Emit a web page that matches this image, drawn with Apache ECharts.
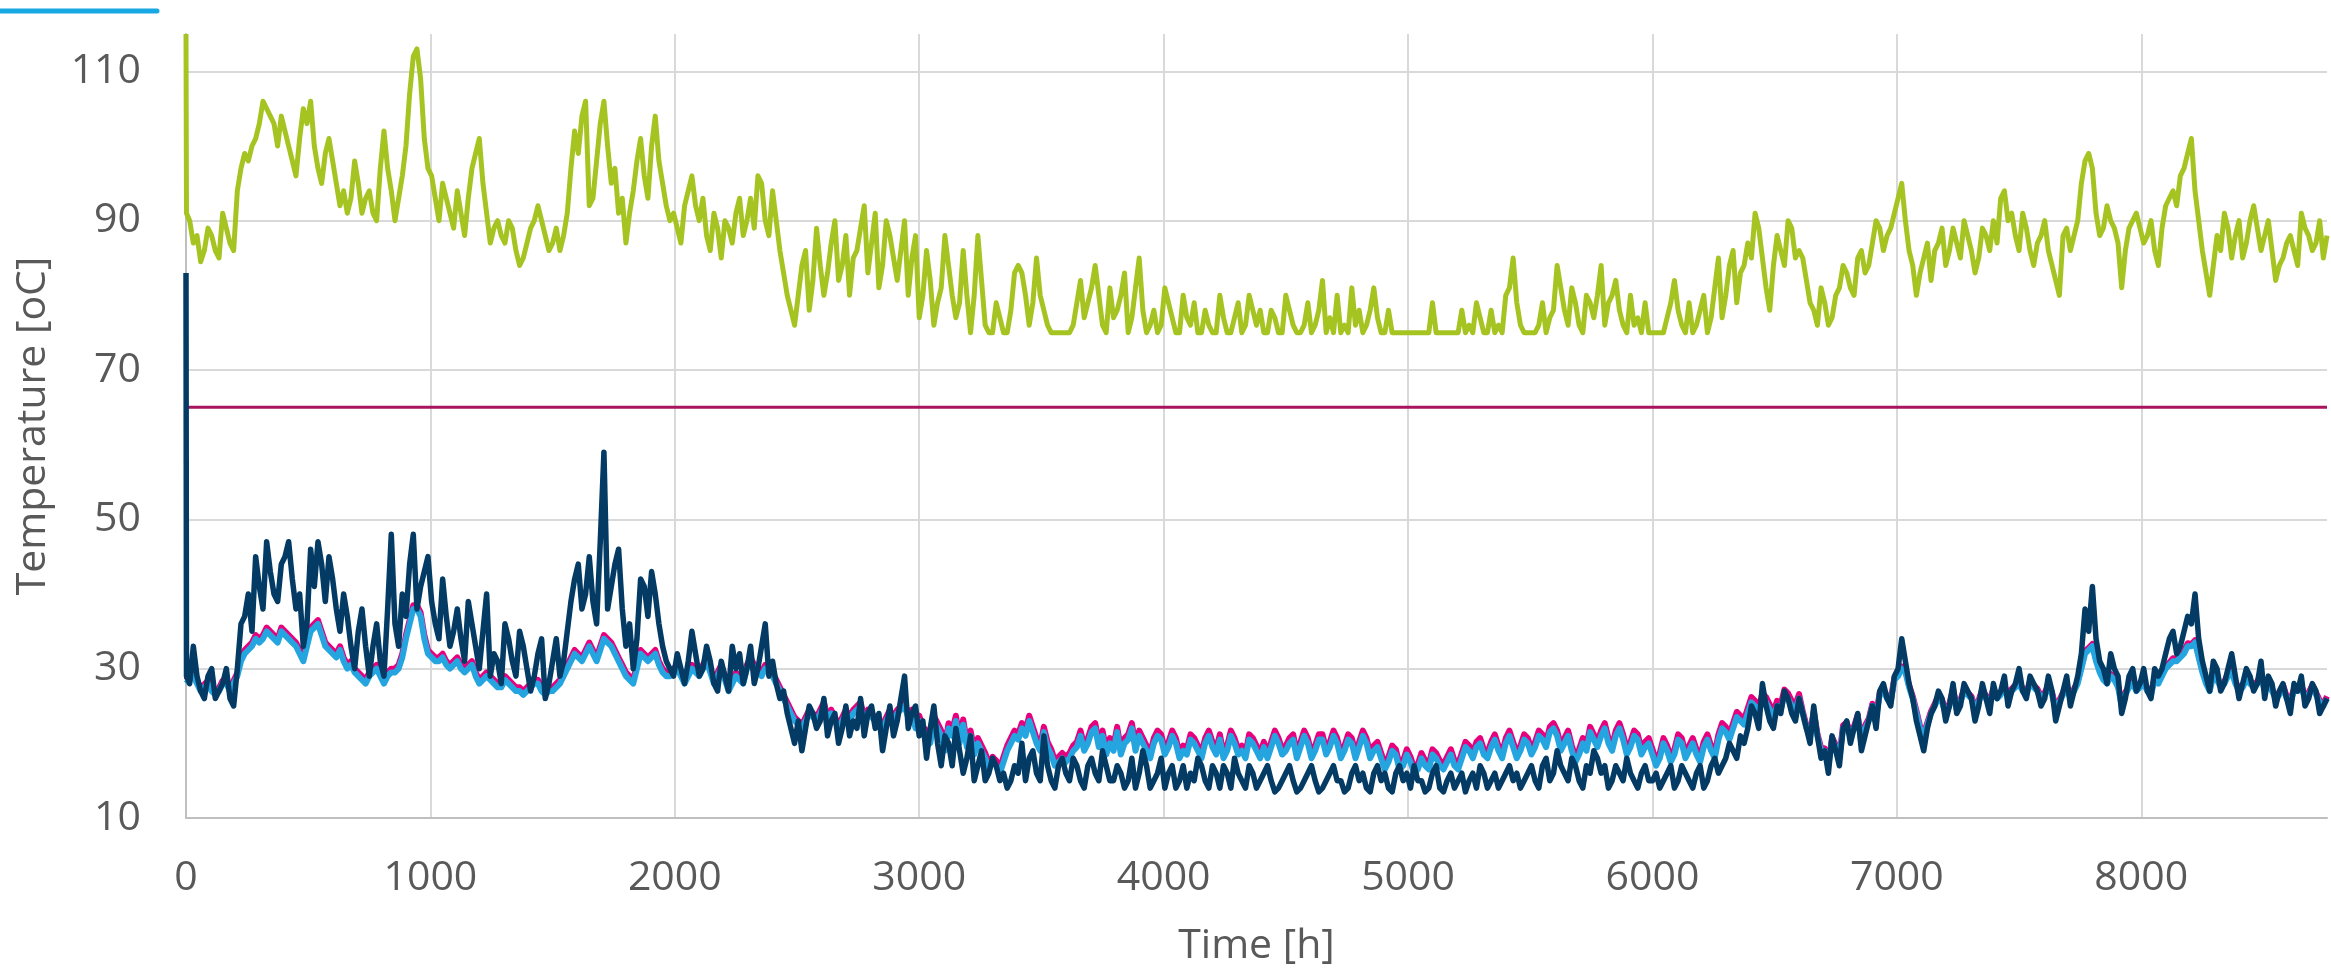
<!DOCTYPE html>
<html><head><meta charset="utf-8">
<script src="https://cdn.jsdelivr.net/npm/echarts@6/dist/echarts.min.js"></script>
<style>html,body{margin:0;padding:0;background:#fff}#c{width:2331px;height:973px}</style>
</head><body><div id="c"></div>
<script>
// time axis (hours): start spike point, then 15 h steps up to 8760
const hours = [0, 2];
for (let h = 15; h <= 8760; h += 15) hours.push(h);

const xTickLabels = [0, 1000, 2000, 3000, 4000, 5000, 6000, 7000, 8000];
const yTickLabels = [10, 30, 50, 70, 90, 110];

const supplyTemp = [115, 91,
  90,87, 88,84.5, 86,89, 88,86, 85,91,
  89,87, 86,94, 97,99, 98,100, 101,103,
  106,105, 104,103, 100,104, 102,100, 98,96,
  101,105, 103,106, 100,97, 95,99, 101,98,
  95,92, 94,91, 93,98, 95,91, 93,94,
  91,90, 97,102, 97,94, 90,93, 96,100,
  107,112, 113,109, 101,97, 96,93, 90,95,
  93,91, 89,94, 91,88, 93,97, 99,101,
  95,91, 87,89, 90,88, 87,90, 89,86,
  84,85, 87,89, 90,92, 90,88, 86,87,
  89,86, 88,91, 97,102, 99,104, 106,92,
  93,98, 103,106, 100,95, 97,91, 93,87,
  91,94, 98,101, 96,93, 100,104, 98,95,
  92,90, 91,89, 87,92, 94,96, 92,90,
  93,88, 86,91, 89,85, 90,89, 87,91, 93,88,
  90,93, 89,96, 95,90, 88,94, 90,86,
  83,80, 78,76, 80,84, 86,78, 82,89,
  84,80, 83,87, 90,82, 84,88, 80,85,
  86,89, 92,83, 87,91, 81,84, 90,88,
  85,82, 86,90, 80,85, 88,77, 80,86,
  82,76, 79,81, 88,84, 80,77, 79,86,
  80,75, 80,88, 82,76, 75,75, 79,77,
  75,75, 78,83, 84,83, 80,76, 79,85,
  80,78, 76,75, 75,75, 75,75, 75,76,
  79,82, 77,79, 81,84, 80,76, 75,81,
  77,78, 80,83, 75,77, 81,85, 78,75,
  76,78, 75,76, 81,79, 77,75, 75,80,
  77,76, 79,75, 75,78, 76,75, 75,80,
  77,75, 75,77, 79,75, 76,80, 78,76,
  78,75,
  75,78, 77,75, 75,80, 78,76, 75,75,
  76,79, 75,76, 78,82, 75,77, 75,80,
  75,76, 75,81, 76,78, 75,76, 78,81,
  77,75, 75,78, 75,75, 75,75, 75,75,
  75,75, 75,75, 75,79, 75,75, 75,75,
  75,75, 75,78, 75,76, 75,79, 77,75,
  75,78, 75,76, 75,80, 81,85, 79,76,
  75,75, 75,75, 76,79, 75,77, 78,84,
  81,78, 76,81, 79,76, 75,80, 79,77,
  80,84, 76,79, 80,82, 78,76, 75,80,
  76,77, 75,79, 75,75, 75,75, 75,77,
  79,82, 78,76, 75,79, 75,76, 78,80,
  75,77, 81,85, 77,80, 84,86, 79,83,
  84,87, 85,91, 89,85, 81,78, 84,88,
  86,84, 90,89, 85,86,
  85,82, 79,78, 76,81, 79,76, 77,80,
  81,84, 83,81, 80,85, 86,83, 84,87,
  90,89, 86,88, 89,91, 93,95, 90,86,
  84,80, 83,85, 87,82, 86,87, 89,84,
  86,89, 87,85, 90,88, 86,83, 85,89,
  88,86, 90,87, 93,94, 90,91, 88,86,
  91,89, 86,84, 87,88, 90,86, 84,82,
  80,88, 89,86, 88,90, 95,98, 99,97,
  91,88, 89,92, 90,89, 87,81, 86,89,
  90,91, 89,87, 88,90, 86,84, 89,92,
  93,94, 92,96, 97,99, 101,94, 90,86,
  83,80, 84,88, 86,91, 89,85, 88,90,
  85,87, 90,92, 89,86, 88,90, 86,82,
  84,85, 87,88, 86,84, 91,89, 88,86,
  87,90, 85,88];

const limitTemp = 65;

const returnPink = [28.4, 28.4,
  28.9,29.4, 28.4,27.4, 27.9,28.4, 27.4,26.9, 27.4,28.4,
  28.4,27.4, 28.4,29.4, 31.4,32.5, 33,33.5, 34.5,34,
  34.5,35.5, 35,34.5, 34,35.5, 35,34.5, 34,33.5,
  32.5,31.5, 33.5,35.5, 36,36.5, 35,33.5, 33,32.5,
  32,33, 31.5,30.5, 31,30, 29.5,29, 28.5,29.5,
  30,30.5, 29.5,28.5, 29.5,30, 30,30.5, 32,34.5,
  36.5,38.5, 38.5,37.5, 34.5,32.5, 32,31.5, 31.5,32,
  31,30.5, 31,31.5, 30.5,30, 30.5,31, 29.5,28.5,
  29,29.5, 29,28.5, 28,28, 29,28.5, 28,27.5,
  27.5,27, 27.5,28, 28.5,28.5, 27.5,27, 27.5,27.5,
  28,28.5, 29.5,30.5, 31.5,32.5, 32,31.5, 32.5,33.5,
  32.5,31.5, 33,34.5, 34,33.5, 32.5,31.5, 30.5,29.5,
  29,28.5, 30.5,32.5, 32,31.5, 32,32.5, 31,30,
  29.5,29.5, 30,30.5, 29.5,28.5, 29.5,30.5, 30,29.5,
  30.5,31.5, 30,28.5, 29.5,30.5, 29,27.5, 28.5,29.5, 29,28.5,
  30.5,31.5, 30.5,30, 29.5,30.5, 30,29.5, 28.5,27.5,
  26.5,25.5, 24.5,23.5, 23,22.5, 23.5,24.5, 24,23.5,
  24.5,25.5, 23.5,24.5, 23.5,22.5, 23.5,24.5, 23.5,24.5,
  25,25.5, 23.5,24.5, 24,23.5, 23,22.5, 23.5,24.5,
  23.5,24.5, 25,25.5, 24,24.5, 22.7,23.7, 22.2,21.7,
  20.7,23.7, 22.7,21.7, 19.7,22.7, 21.7,23.7, 20.7,23.2,
  20.2,21.7, 19.2,20.7, 19.7,18.7, 17.2,18.2, 17.7,16.7,
  18.2,19.7, 20.7,21.7, 21.2,22.7, 21.7,23.7, 22.2,20.7,
  19.7,22.2, 20.2,19.2, 17.7,18.2, 18.7,18.2, 18.7,19.7,
  20.2,21.7, 19.7,20.7, 22.2,22.7, 20.2,21.7, 19.2,20.7,
  19.7,22.2, 19.2,20.7, 21.2,22.7, 19.7,21.7, 20.7,19.7,
  18.7,20.7, 21.7,21.2, 19.2,20.2, 21.7,20.7, 18.7,19.7,
  19.2,21.2, 20.7,19.7, 18.7,20.7, 21.7,20.2, 19.2,21.2,
  18.7,19.7, 21.7,20.7, 19.2,19.7, 18.7,21.2, 20.7,19.7,
  18.7,20.2,
  18.7,20.2, 21.7,20.7, 19.2,19.7, 20.7,21.2, 18.7,20.2,
  21.7,20.7, 18.7,19.7, 21.2,21.2, 19.2,20.2, 21.7,20.7,
  18.7,19.7, 21.2,20.7, 18.7,20.2, 21.7,20.7, 18.7,19.7,
  20.2,18.7, 17.2,18.2, 19.7,19.2, 17.2,17.7, 19.2,18.2,
  16.7,17.2, 18.7,17.7, 17.2,19.2, 18.7,17.7, 17.2,18.2,
  19.2,17.7, 17.2,18.7, 20.2,19.7, 18.7,20.2, 20.7,19.2,
  18.7,20.2, 21.2,19.7, 18.7,20.7, 21.7,20.2, 18.7,19.7,
  21.2,20.7, 19.2,20.2, 21.7,21.2, 20.2,22.2, 22.7,21.7,
  19.7,20.7, 21.7,19.7, 18.2,19.2, 20.7,19.7, 22.2,21.2,
  20.2,21.7, 22.7,20.7, 19.7,21.7, 22.7,21.2, 19.2,20.2,
  21.7,21.2, 19.2,20.2, 20.7,19.2, 17.7,18.7, 20.7,19.7,
  18.2,19.2, 21.2,20.7, 18.7,19.7, 20.7,19.2, 18.2,20.2,
  21.2,19.7, 18.7,21.2, 22.7,22.2, 21.2,22.7, 24.2,23.7,
  23.2,24.7, 26.2,25.7, 24.7,26.7, 26.2,25.2, 24.2,25.7,
  25.2,27.2, 26.7,25.7, 25.2,26.6,
  24.3,22.4, 21.3,24.3, 21.3,19.4, 19.3,17.3, 20.8,19.8,
  18.3,22.4, 22.8,21.3, 22.3,23.8, 20.3,22.4, 23.3,25.3,
  23.8,26.8, 27.3,26.3, 25.8,28.8, 29.3,30.3, 29.8,27.8,
  26.3,24.4, 22.3,21.3, 22.8,24.3, 25.3,26.4, 25.8,24.3,
  25.3,27.3, 24.8,25.8, 27.3,26.8, 26.3,24.8, 25.8,27.3,
  26.3,25.8, 27.3,26.3, 26.8,27.8, 26.3,27.3, 27.8,28.3,
  27.3,26.8, 28.3,27.8, 27.3,26.3, 26.8,27.8, 26.8,24.8,
  25.8,26.8, 27.8,26.3, 27.3,28.3, 30.3,32.4, 32.8,33.3,
  31.3,29.8, 28.8,28.3, 29.3,28.8, 27.8,25.3, 26.8,27.8,
  28.3,27.3, 27.8,28.3, 27.3,26.8, 28.8,28.3, 29.3,30.3,
  30.8,31.4, 31.3,31.8, 32.3,33.4, 33.3,33.8, 31.8,29.8,
  28.3,27.3, 29.3,28.8, 27.8,28.3, 29.3,29.8, 28.3,27.3,
  27.8,28.8, 28.3,27.8, 28.3,29.3, 27.3,28.3, 27.3,26.3,
  26.8,27.8, 26.3,25.8, 27.3,27.3, 27.8,26.3, 26.8,27.8,
  26.8,25.8, 25.3,26.3];

const returnBlue = [28, 28,
  28.5,29, 28,27, 27.5,28, 27,26.5, 27,28,
  28,27, 28,29, 31,32, 32.5,33, 34,33.5,
  34,35, 34.5,34, 33.5,35, 34.5,34, 33.5,33,
  32,31, 33,35, 35.5,36, 34.5,33, 32.5,32,
  31.5,32.5, 31,30, 30.5,29.5, 29,28.5, 28,29,
  29.5,30, 29,28, 29,29.5, 29.5,30, 31.5,34,
  36,38, 38,37, 34,32, 31.5,31, 31,31.5,
  30.5,30, 30.5,31, 30,29.5, 30,30.5, 29,28,
  28.5,29, 28.5,28, 27.5,27.5, 28.5,28, 27.5,27,
  27,26.5, 27,27.5, 28,28, 27,26.5, 27,27,
  27.5,28, 29,30, 31,32, 31.5,31, 32,33,
  32,31, 32.5,34, 33.5,33, 32,31, 30,29,
  28.5,28, 30,32, 31.5,31, 31.5,32, 30.5,29.5,
  29,29, 29.5,30, 29,28, 29,30, 29.5,29,
  30,31, 29.5,28, 29,30, 28.5,27, 28,29, 28.5,28,
  30,31, 30,29.5, 29,30, 29.5,29, 28,27,
  26,25, 24,23, 22.5,22, 23,24, 23.5,23,
  24,25, 23,24, 23,22, 23,24, 23,24,
  24.5,25, 23,24, 23.5,23, 22.5,22, 23,24,
  23,24, 24.5,25, 23.5,24, 22,23, 21.5,21,
  20,23, 22,21, 19,22, 21,23, 20,22.5,
  19.5,21, 18.5,20, 19,18, 16.5,17.5, 17,16,
  17.5,19, 20,21, 20.5,22, 21,23, 21.5,20,
  19,21.5, 19.5,18.5, 17,17.5, 18,17.5, 18,19,
  19.5,21, 19,20, 21.5,22, 19.5,21, 18.5,20,
  19,21.5, 18.5,20, 20.5,22, 19,21, 20,19,
  18,20, 21,20.5, 18.5,19.5, 21,20, 18,19,
  18.5,20.5, 20,19, 18,20, 21,19.5, 18.5,20.5,
  18,19, 21,20, 18.5,19, 18,20.5, 20,19,
  18,19.5,
  18,19.5, 21,20, 18.5,19, 20,20.5, 18,19.5,
  21,20, 18,19, 20.5,20.5, 18.5,19.5, 21,20,
  18,19, 20.5,20, 18,19.5, 21,20, 18,19,
  19.5,18, 16.5,17.5, 19,18.5, 16.5,17, 18.5,17.5,
  16,16.5, 18,17, 16.5,18.5, 18,17, 16.5,17.5,
  18.5,17, 16.5,18, 19.5,19, 18,19.5, 20,18.5,
  18,19.5, 20.5,19, 18,20, 21,19.5, 18,19,
  20.5,20, 18.5,19.5, 21,20.5, 19.5,21.5, 22,21,
  19,20, 21,19, 17.5,18.5, 20,19, 21.5,20.5,
  19.5,21, 22,20, 19,21, 22,20.5, 18.5,19.5,
  21,20.5, 18.5,19.5, 20,18.5, 17,18, 20,19,
  17.5,18.5, 20.5,20, 18,19, 20,18.5, 17.5,19.5,
  20.5,19, 18,20.5, 22,21.5, 20.5,22, 23.5,23,
  22.5,24, 25.5,25, 24,26, 25.5,24.5, 23.5,25,
  24.5,26.5, 26,25, 24.5,26,
  24,22, 21,24, 21,19, 19,17, 20.5,19.5,
  18,22, 22.5,21, 22,23.5, 20,22, 23,25,
  23.5,26.5, 27,26, 25.5,28.5, 29,30, 29.5,27.5,
  26,24, 22,21, 22.5,24, 25,26, 25.5,24,
  25,27, 24.5,25.5, 27,26.5, 26,24.5, 25.5,27,
  26,25.5, 27,26, 26.5,27.5, 26,27, 27.5,28,
  27,26.5, 28,27.5, 27,26, 26.5,27.5, 26.5,24.5,
  25.5,26.5, 27.5,26, 27,28, 30,32, 32.5,33,
  31,29.5, 28.5,28, 29,28.5, 27.5,25, 26.5,27.5,
  28,27, 27.5,28, 27,26.5, 28.5,28, 29,30,
  30.5,31, 31,31.5, 32,33, 33,33.5, 31.5,29.5,
  28,27, 29,28.5, 27.5,28, 29,29.5, 28,27,
  27.5,28.5, 28,27.5, 28,29, 27,28, 27,26,
  26.5,27.5, 26,25.5, 27,27, 27.5,26, 26.5,27.5,
  26.5,25.5, 25,26];

const returnNavy = [83, 29,
  28,33, 29,27, 26,29, 30,26, 27,28,
  30,26, 25,30, 36,37, 40,35, 45,41,
  38,47, 43,40, 39,44, 45,47, 42,38,
  40,33, 36,46, 41,47, 44,39, 45,42,
  38,35, 40,37, 33,30, 35,38, 33,29,
  33,36, 31,29, 38,48, 36,33, 40,37,
  44,48, 38,41, 43,45, 39,36, 34,42,
  37,33, 35,38, 34,31, 39,36, 33,30,
  35,40, 29,32, 31,28, 36,34, 31,29,
  35,33, 30,27, 29,32, 34,26, 28,31,
  34,29, 31,35, 39,42, 44,38, 40,45,
  39,36, 47,59, 38,41, 44,46, 38,33,
  36,30, 34,42, 41,37, 43,40, 36,33,
  31,30, 29,32, 30,28, 31,35, 32,29,
  30,33, 31,28, 27,31, 29,27, 33,30, 32,28,
  30,33, 28,30, 33,36, 29,31, 28,26,
  27,24, 22,20, 23,19, 22,25, 24,22,
  23,26, 21,23, 24,20, 22,25, 21,23,
  22,26, 21,24, 25,22, 24,19, 22,25,
  21,23, 26,29, 22,24, 25,21, 23,18,
  22,25, 20,17, 21,20, 17,22, 19,16,
  18,21, 15,17, 19,15, 16,18, 17,15,
  16,14, 15,17, 16,20, 15,18, 19,16,
  15,21, 17,15, 14,17, 18,16, 15,18,
  17,15, 14,17, 18,16, 15,19, 17,15,
  15,17, 16,14, 15,18, 14,16, 19,17,
  14,15, 16,18, 14,16, 17,14, 15,17,
  14,16, 15,18, 17,15, 14,17, 16,14,
  17,16, 14,18, 16,15, 14,17, 16,14,
  15,16,
  17,15, 13.5,14, 15,16, 17,15, 13.5,14,
  15,16, 17,15, 13.5,14, 15,16, 17,15,
  15,13.5, 14,16, 17,15, 16,14, 13.5,16,
  17,15, 16,14, 13.5,16, 17,15, 16,14,
  17,15, 15,13.5, 14,16, 17,14, 13.5,15,
  16,14, 15,16, 13.5,15, 16,14, 17,16,
  14,15, 16,14, 15,16, 17,15, 16,14,
  15,16, 17,15, 14,17, 18,15, 16,19,
  17,16, 15,18, 17,15, 14,17, 16,19,
  18,16, 17,14, 15,17, 16,15, 18,16,
  15,14, 16,17, 15,15, 16,14, 15,16,
  17,14, 15,17, 16,15, 14,16, 17,14,
  15,17, 18,16, 17,18, 20,19, 18,21,
  20,22, 25,24, 22,28, 25,23, 22,25,
  24,27, 26,24, 23,26,
  24,22, 20,25, 21,18, 19,16, 21,19,
  17,22, 23,20, 22,24, 19,21, 23,25,
  22,27, 28,26, 25,29, 30,34, 31,28,
  26,23, 21,19, 22,24, 25,27, 26,23,
  25,28, 24,25, 28,27, 26,23, 25,28,
  26,24, 28,26, 27,29, 25,27, 28,30,
  27,26, 29,28, 27,25, 26,29, 27,23,
  25,27, 29,25, 27,29, 32,38, 35,41,
  34,31, 30,28, 32,30, 29,24, 26,29,
  30,27, 28,30, 27,26, 30,29, 30,32,
  34,35, 32,33, 35,37, 36,40, 34,31,
  29,27, 31,30, 27,28, 30,32, 29,26,
  28,30, 29,27, 28,31, 26,29, 28,25,
  27,28, 26,24, 28,27, 29,25, 26,28,
  27,24, 25,26];

const seriesNames = ['Supply temperature', 'Limit', 'Return temperature A', 'Return temperature B', 'Return temperature C'];
const seriesColors = ['#a6c421', '#a8145e', '#e6007e', '#25a5e0', '#033b65'];

const toPairs = vals => hours.map((h, i) => [h, vals[i]]);
[supplyTemp, returnPink, returnBlue, returnNavy].forEach((a, k) => {
  if (a.length !== hours.length) console.error('length mismatch', k, a.length, hours.length);
});

const font = "'Open Sans', 'DejaVu Sans', sans-serif";
const txt = '#595959';

const chart = echarts.init(document.getElementById('c'), null, {renderer: 'canvas'});
chart.setOption({
  animation: false,
  backgroundColor: '#ffffff',
  grid: {left: 186, right: 4, top: 34, bottom: 155, containLabel: false},
  graphic: [{
    type: 'line', silent: true,
    shape: {x1: 0, y1: 11, x2: 157, y2: 11},
    style: {stroke: '#18a8e4', lineWidth: 5, lineCap: 'round'}
  }],
  xAxis: {
    type: 'value', min: 0, max: 8760, interval: 1000,
    name: 'Time [h]', nameLocation: 'middle', nameGap: 108,
    nameTextStyle: {fontFamily: font, fontSize: 41, color: txt},
    axisLine: {show: true, lineStyle: {color: '#bfbfbf', width: 2}},
    axisTick: {show: false},
    axisLabel: {
      fontFamily: font, fontSize: 41, color: txt, margin: 40,
      showMaxLabel: false,
      formatter: v => (xTickLabels.indexOf(v) >= 0 ? String(v) : '')
    },
    splitLine: {show: true, showMinLine: false, showMaxLine: false, lineStyle: {color: '#d9d9d9', width: 2}}
  },
  yAxis: {
    type: 'value', min: 10, max: 115, interval: 20,
    name: 'Temperature [oC]', nameLocation: 'middle', nameGap: 132, nameRotate: 90,
    nameTextStyle: {fontFamily: font, fontSize: 41, color: txt},
    axisLine: {show: true, lineStyle: {color: '#bfbfbf', width: 2}},
    axisTick: {show: false},
    axisLabel: {
      fontFamily: font, fontSize: 41, color: txt, margin: 45,
      showMaxLabel: false,
      formatter: v => (yTickLabels.indexOf(v) >= 0 ? String(v) : '')
    },
    splitLine: {show: true, showMinLine: false, showMaxLine: false, lineStyle: {color: '#d9d9d9', width: 2}}
  },
  series: [
    {name: seriesNames[0], type: 'line', data: toPairs(supplyTemp), showSymbol: false, symbol: 'none',
     lineStyle: {color: seriesColors[0], width: 5, join: 'round'}, z: 2, silent: true},
    {name: seriesNames[1], type: 'line', data: [[0, limitTemp], [8760, limitTemp]], showSymbol: false, symbol: 'none',
     lineStyle: {color: seriesColors[1], width: 3}, z: 3, silent: true},
    {name: seriesNames[2], type: 'line', data: toPairs(returnPink), showSymbol: false, symbol: 'none',
     lineStyle: {color: seriesColors[2], width: 6, join: 'round'}, z: 4, silent: true},
    {name: seriesNames[3], type: 'line', data: toPairs(returnBlue), showSymbol: false, symbol: 'none',
     lineStyle: {color: seriesColors[3], width: 6, join: 'round'}, z: 5, silent: true},
    {name: seriesNames[4], type: 'line', data: toPairs(returnNavy), showSymbol: false, symbol: 'none',
     lineStyle: {color: seriesColors[4], width: 5.5, join: 'round'}, z: 6, silent: true}
  ]
});
</script>
</body></html>
